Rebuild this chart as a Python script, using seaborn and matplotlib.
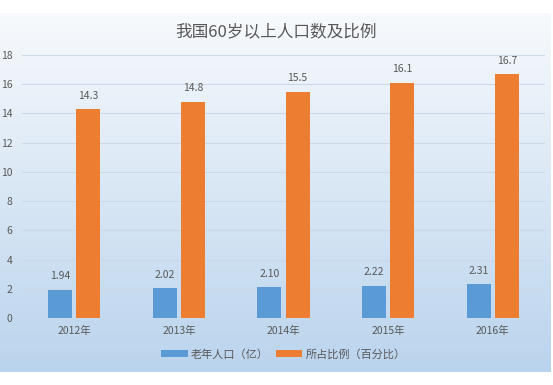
import numpy as np
import pandas as pd
import matplotlib.pyplot as plt
import seaborn as sns

# data
years = ['2012年', '2013年', '2014年', '2015年', '2016年']
elderly = [1.94, 2.02, 2.10, 2.22, 2.31]       # 老年人口(亿)
ratio = [14.3, 14.8, 15.5, 16.1, 16.7]         # 所占比例(百分比)
series_names = ['老年人口（亿）', '所占比例（百分比）']
colors = ['#5b9bd5', '#ed7d31']

df = pd.DataFrame({
    'year': years * 2,
    'value': elderly + ratio,
    'series': [series_names[0]] * len(years) + [series_names[1]] * len(years),
})

sns.set_theme(style='white')
plt.rcParams['font.family'] = ['Noto Sans CJK SC', 'DejaVu Sans']
text_color = '#595959'

fig = plt.figure(figsize=(5.53, 3.85), dpi=100)

# gradient background panel
bg = fig.add_axes([0, 13 / 385, 0.995, 1 - 26 / 385], zorder=0)
grad = np.linspace(0, 1, 256).reshape(-1, 1)
top = np.array([0.97, 0.98, 0.99])
bottom = np.array([0.73, 0.83, 0.93])
img = top + (bottom - top) * grad[..., None]
img = img.reshape(256, 1, 3)
bg.imshow(img, aspect='auto', extent=[0, 1, 0, 1])
bg.set_axis_off()

ax = fig.add_axes([22 / 553, 67 / 385, 523 / 553, 263 / 385], zorder=1)
ax.patch.set_alpha(0)

sns.barplot(data=df, x='year', y='value', hue='series', palette=colors,
            width=0.54, gap=0.15, saturation=1, linewidth=0, ax=ax, legend=True)

for cont, fmt in zip(ax.containers, ['{:.2f}', '{:.1f}']):
    labels = [fmt.format(b.get_height()) for b in cont]
    ax.bar_label(cont, labels=labels, padding=6, fontsize=7.5, color=text_color)

ax.set_ylim(0, 18)
ax.set_yticks(range(0, 19, 2))
ax.set_xlim(-0.5, 4.5)
ax.set_xlabel('')
ax.set_ylabel('')
ax.grid(axis='y', color='#cbd8e7', linewidth=0.8)
ax.set_axisbelow(True)
for s in ax.spines.values():
    s.set_visible(False)
ax.tick_params(axis='both', length=0, labelsize=7.5, colors=text_color)
ax.tick_params(axis='y', pad=7)
ax.tick_params(axis='x', pad=6)

ax.legend(loc='upper center', bbox_to_anchor=(0.5, -0.08), ncol=2, frameon=False,
          fontsize=8, handlelength=2.4, handleheight=0.6, handletextpad=0.3,
          columnspacing=0.6, labelcolor=text_color)

fig.text(0.5, 1 - 32 / 385, '我国60岁以上人口数及比例', ha='center', va='center',
         fontsize=12, color=text_color)

fig.savefig('out.png', dpi=100, facecolor='white')
